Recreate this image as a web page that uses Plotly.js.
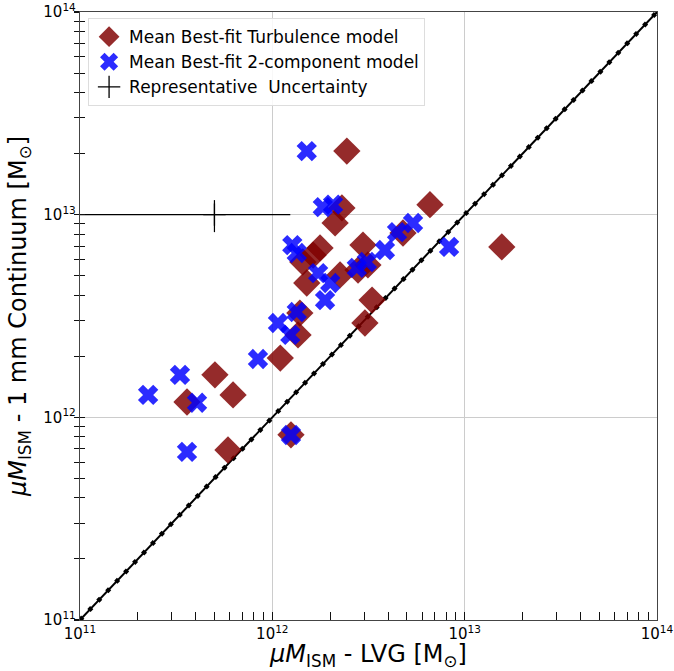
<!DOCTYPE html>
<html><head><meta charset="utf-8">
<script src="https://cdn.plot.ly/plotly-3.0.1.min.js"></script>
<style>body{margin:0;padding:0;background:#fff}#chart{width:674px;height:671px}</style>
</head><body><div id="chart"></div>
<script>
// Mean best-fit Turbulence model
const turbX = [2.44e12,6.6e12,2.30e12,2.12e12,1.56e13,4.78e12,2.96e12,1.77e12,1.63e12,1.44e12,1.51e12,2.25e12,2.79e12,3.14e12,3.3e12,3.03e12,1.39e12,1.36e12,1.10e12,5.03e11,6.25e11,3.6e11,5.88e11,1.25e12];
const turbY = [2.06e13,1.12e13,1.08e13,9.1e12,6.93e12,8.12e12,7.08e12,6.85e12,6.32e12,5.84e12,4.6e12,5.04e12,5.33e12,5.65e12,3.79e12,2.92e12,3.27e12,2.55e12,1.96e12,1.62e12,1.29e12,1.19e12,6.9e11,8.2e11];
// Mean best-fit 2-component model
const twoX = [1.51e12,1.83e12,2.07e12,1.27e12,1.34e12,1.73e12,2.0e12,1.88e12,2.75e12,3.1e12,3.85e12,4.45e12,5.39e12,8.3e12,1.34e12,1.07e12,1.24e12,8.42e11,3.31e11,2.26e11,4.06e11,3.6e11,1.25e12];
const twoY = [2.06e13,1.09e13,1.12e13,7.08e12,6.47e12,5.15e12,4.6e12,3.79e12,5.46e12,5.84e12,6.69e12,8.2e12,9.1e12,6.93e12,3.31e12,2.92e12,2.55e12,1.94e12,1.62e12,1.29e12,1.18e12,6.75e11,8.18e11];
// Representative uncertainty
const uncX = [5e11];
const uncY = [1e13];
const uncXPlus = [7.4e11];
const uncXMinus = [4.9e11];
const uncYPlus = [1.8e12];
const uncYMinus = [1.8e12];
// one-to-one line
const oneX = [1e11, 1e14];
const oneY = [1e11, 1e14];
// tick labels
const tickVals = [1e11, 1e12, 1e13, 1e14];
const tickText = ['10<sup>11</sup>', '10<sup>12</sup>', '10<sup>13</sup>', '10<sup>14</sup>'];

const minorVals = [];
for (let e = 11; e < 14; e++) for (let d = 2; d <= 9; d++) minorVals.push(d * Math.pow(10, e));

const traces = [
  {x: oneX, y: oneY, mode: 'lines', line: {color: 'black', width: 2}, showlegend: false, hoverinfo: 'skip'},
  {x: oneX, y: oneY, mode: 'lines', line: {color: 'black', width: 4.5, dash: '4px,9px'}, showlegend: false, hoverinfo: 'skip'},
  {x: turbX, y: turbY, mode: 'markers', name: 'Mean Best-fit Turbulence model',
   marker: {symbol: 'diamond', size: 21, color: 'rgba(128,0,0,0.83)', line: {width: 0}}},
  {x: twoX, y: twoY, mode: 'markers', name: 'Mean Best-fit 2-component model',
   marker: {symbol: 'x', size: 18, color: 'rgba(0,0,255,0.83)', line: {width: 0}}},
  {x: uncX, y: uncY, mode: 'markers', name: 'Representative  Uncertainty',
   marker: {symbol: 'cross-thin', size: 16, color: 'black', line: {color: 'black', width: 1.3}},
   error_x: {type: 'data', symmetric: false, array: uncXPlus, arrayminus: uncXMinus, color: 'black', thickness: 1.2, width: 0},
   error_y: {type: 'data', symmetric: false, array: uncYPlus, arrayminus: uncYMinus, color: 'black', thickness: 1.2, width: 0}},
  // invisible trace to drive the outer tick axis
  {x: oneX, y: oneY, yaxis: 'y2', mode: 'lines', line: {width: 0, color: 'rgba(0,0,0,0)'}, showlegend: false, hoverinfo: 'skip'}
];

const tickfont = {family: 'DejaVu Sans', size: 15, color: 'black'};

const layout = {
  width: 674, height: 671,
  margin: {l: 80, r: 17, t: 12, b: 51},
  paper_bgcolor: 'white', plot_bgcolor: 'white',
  font: {family: 'DejaVu Sans', color: 'black'},
  xaxis: {
    type: 'log', range: [11, 14], tickmode: 'array', tickvals: tickVals, ticktext: tickText,
    ticks: 'inside', ticklen: 8, tickwidth: 1.2, tickcolor: '#111',
    showgrid: true, gridcolor: '#cccccc', gridwidth: 1,
    showline: true, linecolor: '#444', linewidth: 1.2, mirror: true, zeroline: false,
    tickfont: tickfont,
    minor: {tickmode: 'array', tickvals: minorVals, ticks: 'inside', ticklen: 8, tickwidth: 1, tickcolor: '#111', showgrid: false},
    title: {text: '<i>μM</i><sub>ISM</sub> - LVG [M<sub>⊙</sub>]', font: {size: 24}, standoff: 7}
  },
  yaxis: {
    type: 'log', range: [11, 14], tickmode: 'array', tickvals: tickVals, ticktext: tickText,
    ticks: 'inside', ticklen: 5, tickwidth: 1.2, tickcolor: '#111',
    showgrid: true, gridcolor: '#cccccc', gridwidth: 1,
    showline: true, linecolor: '#444', linewidth: 1.2, mirror: true, zeroline: false,
    tickfont: tickfont,
    minor: {tickmode: 'array', tickvals: minorVals, ticks: 'inside', ticklen: 5, tickwidth: 1, tickcolor: '#111', showgrid: false},
    title: {text: '<i>μM</i><sub>ISM</sub> - 1 mm Continuum [M<sub>⊙</sub>]', font: {size: 24}, standoff: 10}
  },
  yaxis2: {
    type: 'log', range: [11, 14], overlaying: 'y', side: 'left', tickmode: 'array', tickvals: tickVals,
    ticks: 'outside', ticklen: 5, tickwidth: 1.2, tickcolor: '#111', showticklabels: false,
    showgrid: false, showline: false, zeroline: false,
    minor: {tickmode: 'array', tickvals: minorVals, ticks: 'outside', ticklen: 5, tickwidth: 1, tickcolor: '#111', showgrid: false}
  },
  legend: {x: 0.014, y: 0.99, xanchor: 'left', yanchor: 'top',
    bgcolor: 'rgba(255,255,255,0.85)', bordercolor: '#dddddd', borderwidth: 1,
    font: {size: 17, family: 'DejaVu Sans'}, tracegroupgap: 0, itemsizing: 'trace'},
  showlegend: true
};

Plotly.newPlot('chart', traces, layout, {displayModeBar: false, staticPlot: true});
</script></body></html>
